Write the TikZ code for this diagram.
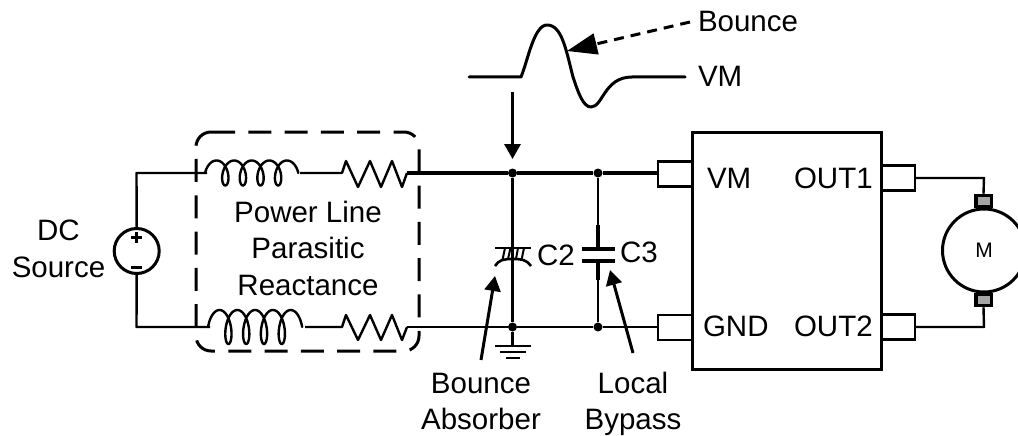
\documentclass[tikz,border=0pt]{standalone}
\usepackage{fontspec}
\setmainfont{Liberation Sans}
\usetikzlibrary{arrows.meta}
\newcommand{\coilpath}[5]{% x0, yc, pitch, loop offset, half height
  plot[domain=-1.5708:26.7036,samples=220,smooth] ({#1+#3*\x/6.28318+#4*sin(\x r)},{#2-#5*cos(\x r)})}
\tikzset{
  x=1pt,y=-1pt,
  wire/.style={line width=2.4pt,line join=round},
  bus/.style={line width=3.1pt,line join=round},
  chipline/.style={line width=3pt,line join=miter},
  thickwire/.style={line width=3pt,line join=round,line cap=round},
  txt/.style={font=\fontsize{29.5}{36.5}\selectfont,inner sep=0pt,outer sep=0pt},
  captxt/.style={txt,anchor=base west},
  multi/.style={txt,align=center,anchor=base},
  jdot/.style={circle,fill=black,inner sep=0pt,minimum size=9pt},
  pinbox/.style={draw,line width=2.4pt,fill=white,inner sep=0pt},
  brush/.style={draw,line width=3.5pt,fill=black!35,inner sep=0pt},
  bigarrow/.style={line width=3pt,-{Triangle[length=15pt,width=16pt]}},
}
\begin{document}
\begin{tikzpicture}
\useasboundingbox (0,0) rectangle (1018,436);
\clip (0,0) rectangle (1018,436);

% junctions and corners
\coordinate (tl) at (136.5,173);
\coordinate (bl) at (136.5,327);
\coordinate (cointop) at (207,173);
\coordinate (coilout) at (300,173);
\coordinate (rtin) at (342,173);
\coordinate (rtout) at (407,173);
\coordinate (cobin) at (210,327);
\coordinate (cobout) at (305,327);
\coordinate (rbin) at (342,327);
\coordinate (rbout) at (407,327);
\node[jdot] (j1) at (512.5,173) {};
\node[jdot] (j2) at (598,173) {};
\node[jdot] (j3) at (512.5,327) {};
\node[jdot] (j4) at (598,327) {};

% pins and chip
\node[pinbox,minimum width=34pt,minimum height=25pt] (pvm) at (675,174) {};
\node[pinbox,minimum width=34pt,minimum height=25pt] (pgnd) at (675,327.5) {};
\node[pinbox,minimum width=34pt,minimum height=25pt] (pout1) at (898,178) {};
\node[pinbox,minimum width=34pt,minimum height=25pt] (pout2) at (898,327) {};
\draw[chipline] (692.5,132) rectangle (881,369);

% source
\node[circle,draw,line width=3pt,minimum size=45pt,inner sep=0pt] (src) at (136.7,251) {};
\draw[line width=3pt] (131,237) -- (142,237) (136.5,231.5) -- (136.5,242.5);
\draw[line width=3pt] (131,267) -- (142,267);

% wiring
\draw[wire] (src.north) -- (tl) -- (cointop);
\draw[wire] (src.south) -- (bl) -- (cobin);
\draw[wire,line cap=round] \coilpath{216.5}{173}{17.6}{7}{12.5};
\draw[wire,line cap=round] \coilpath{219.5}{327}{17.8}{7}{17};
\draw[wire] (coilout) -- (rtin) -- (346,161) -- (358,187) -- (370,161) -- (381,187) -- (392,161) -- (402,187) -- (rtout);
\draw[wire] (cobout) -- (rbin) -- (346,315) -- (358,340) -- (370,315) -- (381,340) -- (392,315) -- (402,340) -- (rbout);
\draw[bus] (rtout) -- (j1) -- (j2) -- (pvm.west |- j2);
\draw[wire] (rbout) -- (j3) -- (j4) -- (pgnd.west |- j4);

% C2
\draw[wire] (j1) -- (j3);
\coordinate (c2a) at (512.5,205);
\coordinate (c2b) at (512.5,280);
\draw[bus] (c2a) -- (c2b);
\draw[line width=2.8pt] (495,248) -- (531,248);
\draw[line width=2.6pt] (495,266) .. controls (499,260) and (503,259) .. (512.5,259) .. controls (522,259) and (527,260) .. (531,266);
\draw[line width=2pt] (505,248) -- (502.5,260) (510.5,248) -- (508,259) (518,248) -- (516,259) (524,248) -- (521.5,260);

% C3
\coordinate (c3a) at (598,249);
\coordinate (c3b) at (598,261);
\draw[wire] (j2) -- (c3a);
\draw[wire] (c3b) -- (j4);
\draw[bus] (598,225) -- (c3a);
\draw[bus] (c3b) -- (598,280);
\draw[bus] (582,249) -- (615,249);
\draw[bus] (582,261) -- (615,261);

% ground
\coordinate (gnd) at (512.5,346);
\draw[wire] (j3) -- (gnd);
\draw[wire] (495,346) -- (531,346) (500,352) -- (526,352);
\draw[line width=2.6pt] (506,358) -- (520,358);

% motor
\node[brush,minimum width=15.5pt,minimum height=11pt] (b1) at (983.5,201) {};
\node[brush,minimum width=15.5pt,minimum height=11pt] (b2) at (983.5,300) {};
\node[circle,draw,line width=3pt,minimum size=83pt,inner sep=0pt] (mot) at (984,250.5) {};
\node[font=\fontsize{21}{24}\selectfont,inner sep=0pt] (mlab) at (984,250.5) {M};
\draw[wire] (pout1.east) -- (984,178) -- (b1.north);
\draw[wire] (pout2.east) -- (984,327) -- (b2.south);

% dashed reactance box
\draw[line width=3pt,dash pattern=on 23pt off 13.3pt] (212,132) -- (404,132) arc[start angle=90,end angle=0,radius=15pt] -- (419,336) arc[start angle=0,end angle=-90,radius=15pt] -- (211,351) arc[start angle=-90,end angle=-180,radius=15pt] -- (196,147) arc[start angle=180,end angle=90,radius=15pt] -- cycle;

% waveform
\coordinate (ws) at (469,77);
\coordinate (we) at (685,77);
\draw[thickwire] (ws) -- (521,77) .. controls (528,60) and (534,25) .. (547,25)
  .. controls (562,25) and (566,50) .. (573,77)
  .. controls (578,92) and (583,107) .. (591,107)
  .. controls (603,107) and (604,77) .. (632,77) -- (we);

% arrows
\coordinate (a1s) at (512.5,92);
\coordinate (a1e) at (512.5,159);
\draw[bigarrow] (a1s) -- (a1e);
\coordinate (a2s) at (690,22);
\coordinate (a2m) at (596,44);
\coordinate (a2e) at (567,51);
\draw[line width=3pt,dash pattern=on 10pt off 7pt] (a2s) -- (a2m);
\draw[line width=3pt,-{Triangle[length=30pt,width=21pt]}] (a2m) -- (a2e);
\coordinate (a3s) at (481,360);
\coordinate (a3e) at (495,276);
\draw[bigarrow] (a3s) -- (a3e);
\coordinate (a4s) at (633,353);
\coordinate (a4e) at (610,270);
\draw[bigarrow] (a4s) -- (a4e);

% texts
\node[multi] (tdc) at (58.5,277) {DC\\Source};
\node[multi] (tpl) at (308,295) {Power Line\\Parasitic\\Reactance};
\node[captxt] (tb) at (698,32) {Bounce};
\node[captxt] (tvm) at (698,87) {VM};
\node[captxt] (tv2) at (707,188) {VM};
\node[captxt] (to1) at (794,188) {OUT1};
\node[captxt] (tg) at (703,336) {GND};
\node[captxt] (to2) at (794,336) {OUT2};
\node[captxt] (tc2) at (537,265) {C2};
\node[captxt] (tc3) at (620,262) {C3};
\node[multi] (tba) at (481,429.5) {Bounce\\Absorber};
\node[multi] (tlb) at (633,429.5) {Local\\Bypass};
\end{tikzpicture}
\end{document}
